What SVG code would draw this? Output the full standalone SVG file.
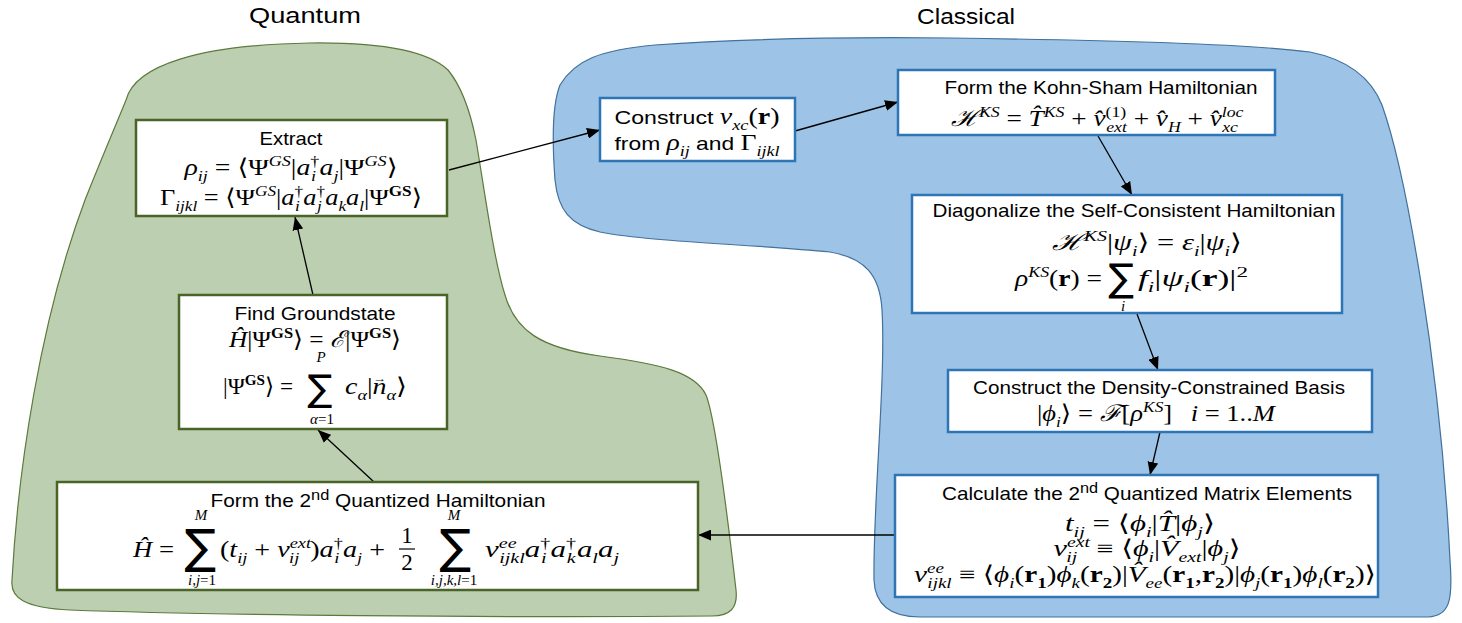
<svg xmlns="http://www.w3.org/2000/svg" width="1462" height="623" viewBox="0 0 1462 623">
<style>
.tx{font-family:"Liberation Sans",Arial,sans-serif;font-size:19px;fill:#000}
.lbl{font-family:"Liberation Sans",Arial,sans-serif;font-size:22px;fill:#000}
.mx{font-family:"Liberation Serif","DejaVu Serif",serif;font-size:23px;font-style:italic;fill:#000}
.up{font-style:normal}
.sm{font-size:15px}
.b{font-weight:bold;font-style:normal}
.sum{font-family:"DejaVu Sans",sans-serif;fill:#000}
.gbox{fill:#fff;stroke:#4a6428;stroke-width:2.5}
.bbox{fill:#fff;stroke:#2e75b6;stroke-width:2.5}
.conn{stroke:#000;stroke-width:1.3;fill:none;marker-end:url(#ah)}
</style>
<defs>
<marker id="ah" viewBox="0 0 12 10" refX="12" refY="5" markerWidth="13" markerHeight="11" markerUnits="userSpaceOnUse" orient="auto">
<path d="M0,0 L12,5 L0,10 Z" fill="#000"/>
</marker>
</defs>
<rect width="1462" height="623" fill="#fff"/>
<g id="quantum-region">
<path d="M126,100 C135,65 200,45 310,43 C390,42 430,53 448,70 C462,87 470,110 476,140 C486,200 494,260 505,295 C515,330 540,348 600,356 C660,364 695,372 706,395 C716,420 728,520 736,590 C738,608 730,616 712,616 C500,618 200,615 70,610 C25,608 10,598 12,580 C18,470 40,320 85,200 C105,150 118,120 126,100 Z" fill="#bdcfb1" stroke="#5b7a3c" stroke-width="1.2"/>
<text class="lbl" x="305" y="23" text-anchor="middle" textLength="112" lengthAdjust="spacingAndGlyphs">Quantum</text>
</g>
<g id="classical-region">
<path d="M560,85 C575,60 600,50 655,45 C750,38 850,37 950,38 C1100,40 1250,44 1310,52 C1350,60 1372,80 1382,105 C1405,170 1440,360 1450,560 C1453,600 1450,616 1428,617 L920,617 C890,617 875,605 874,580 C873,500 886,380 882,310 C880,275 865,258 830,252 C750,244 650,242 600,232 C570,225 558,210 555,180 C552,140 552,105 560,85 Z" fill="#9dc3e6" stroke="#41719c" stroke-width="1.2"/>
<text class="lbl" x="966" y="24" text-anchor="middle" textLength="98" lengthAdjust="spacingAndGlyphs">Classical</text>
</g>
<g id="connectors">
<line class="conn" x1="449" y1="170" x2="600" y2="130"/>
<line class="conn" x1="795" y1="131" x2="898" y2="102"/>
<line class="conn" x1="1098" y1="136" x2="1132" y2="195"/>
<line class="conn" x1="1137" y1="314" x2="1158" y2="370"/>
<line class="conn" x1="1160" y1="432" x2="1150" y2="475"/>
<line class="conn" x1="895" y1="535" x2="698" y2="535"/>
<line class="conn" x1="374" y1="482" x2="318" y2="430"/>
<line class="conn" x1="313" y1="295" x2="295" y2="217"/>
</g>
<g id="extract">
<rect class="gbox" x="136" y="120" width="311" height="96"/>
<text class="tx" x="291" y="145" text-anchor="middle" textLength="63" lengthAdjust="spacingAndGlyphs">Extract</text>
<text class="mx" x="291" y="175" text-anchor="middle" textLength="213" lengthAdjust="spacingAndGlyphs">ρ<tspan class="sm" baseline-shift="-6">ij</tspan><tspan class="up"> = ⟨Ψ</tspan><tspan class="sm" baseline-shift="9">GS</tspan><tspan class="up">|</tspan>a<tspan class="sm up" baseline-shift="9">†</tspan><tspan class="sm" dx="-7" baseline-shift="-6">i</tspan><tspan dx="3">a</tspan><tspan class="sm" baseline-shift="-6">j</tspan><tspan class="up">|Ψ</tspan><tspan class="sm" baseline-shift="9">GS</tspan><tspan class="up">⟩</tspan></text>
<text class="mx" x="291" y="205" text-anchor="middle" textLength="262" lengthAdjust="spacingAndGlyphs"><tspan class="up">Γ</tspan><tspan class="sm" baseline-shift="-6">ijkl</tspan><tspan class="up"> = ⟨Ψ</tspan><tspan class="sm" baseline-shift="9">GS</tspan><tspan class="up">|</tspan>a<tspan class="sm up" baseline-shift="9">†</tspan><tspan class="sm" dx="-7" baseline-shift="-6">i</tspan><tspan dx="3">a</tspan><tspan class="sm up" baseline-shift="9">†</tspan><tspan class="sm" dx="-7" baseline-shift="-6">j</tspan><tspan dx="3">a</tspan><tspan class="sm" baseline-shift="-6">k</tspan>a<tspan class="sm" baseline-shift="-6">l</tspan><tspan class="up">|Ψ</tspan><tspan class="sm b" baseline-shift="9">GS</tspan><tspan class="up">⟩</tspan></text>
</g>
<g id="find-groundstate">
<rect class="gbox" x="179" y="295" width="268" height="134"/>
<text class="tx" x="315" y="320" text-anchor="middle" textLength="161" lengthAdjust="spacingAndGlyphs">Find Groundstate</text>
<text class="mx" x="315" y="347" text-anchor="middle" textLength="172" lengthAdjust="spacingAndGlyphs">Ĥ<tspan class="up">|Ψ</tspan><tspan class="sm b" baseline-shift="9">GS</tspan><tspan class="up">⟩ = </tspan>ℰ<tspan class="up">|Ψ</tspan><tspan class="sm b" baseline-shift="9">GS</tspan><tspan class="up">⟩</tspan></text>
<text class="mx sm" x="321" y="362" text-anchor="middle">P</text>
<text class="mx" x="293" y="394" text-anchor="end" textLength="70" lengthAdjust="spacingAndGlyphs"><tspan class="up">|Ψ</tspan><tspan class="sm b" baseline-shift="9">GS</tspan><tspan class="up">⟩ =</tspan></text>
<text class="sum" x="320" y="401" font-size="37" text-anchor="middle">∑</text>
<text class="mx sm" x="322" y="424" text-anchor="middle">α<tspan class="up">=1</tspan></text>
<text class="mx" x="345" y="394" textLength="62" lengthAdjust="spacingAndGlyphs">c<tspan class="sm" baseline-shift="-6">α</tspan><tspan class="up">|</tspan>n<tspan class="up" font-size="11" dx="-11" baseline-shift="12">→</tspan><tspan class="sm" baseline-shift="-6">α</tspan><tspan class="up">⟩</tspan></text>
</g>
<g id="form-2nd-quantized">
<rect class="gbox" x="57" y="482" width="641" height="108"/>
<text class="tx" x="378" y="507" text-anchor="middle" textLength="335" lengthAdjust="spacingAndGlyphs">Form the 2<tspan class="sm" baseline-shift="7">nd</tspan> Quantized Hamiltonian</text>
<text class="mx" x="133" y="557" textLength="41" lengthAdjust="spacingAndGlyphs">Ĥ<tspan class="up"> =</tspan></text>
<text class="sum" x="200" y="563" font-size="47" text-anchor="middle">∑</text>
<text class="mx sm" x="201" y="520" text-anchor="middle">M</text>
<text class="mx sm" x="202" y="585" text-anchor="middle">i,j<tspan class="up">=1</tspan></text>
<text class="mx" x="220" y="557" textLength="165" lengthAdjust="spacingAndGlyphs"><tspan class="up">(</tspan>t<tspan class="sm" baseline-shift="-6">ij</tspan><tspan class="up"> + </tspan>v<tspan class="sm" baseline-shift="9">ext</tspan><tspan class="sm" dx="-18" baseline-shift="-6">ij</tspan><tspan class="up" dx="9">)</tspan>a<tspan class="sm up" baseline-shift="9">†</tspan><tspan class="sm" dx="-7" baseline-shift="-6">i</tspan><tspan dx="3">a</tspan><tspan class="sm" baseline-shift="-6">j</tspan><tspan class="up"> +</tspan></text>
<text class="mx up" x="407" y="543" text-anchor="middle">1</text>
<line x1="399" y1="549" x2="415" y2="549" stroke="#000" stroke-width="1.2"/>
<text class="mx up" x="407" y="570" text-anchor="middle">2</text>
<text class="sum" x="455" y="563" font-size="47" text-anchor="middle">∑</text>
<text class="mx sm" x="454" y="520" text-anchor="middle">M</text>
<text class="mx sm" x="454" y="585" text-anchor="middle">i,j,k,l<tspan class="up">=1</tspan></text>
<text class="mx" x="485" y="557" textLength="134" lengthAdjust="spacingAndGlyphs">v<tspan class="sm" baseline-shift="9">ee</tspan><tspan class="sm" dx="-13" baseline-shift="-6">ijkl</tspan>a<tspan class="sm up" baseline-shift="9">†</tspan><tspan class="sm" dx="-7" baseline-shift="-6">i</tspan><tspan dx="3">a</tspan><tspan class="sm up" baseline-shift="9">†</tspan><tspan class="sm" dx="-7" baseline-shift="-6">k</tspan><tspan dx="1">a</tspan><tspan class="sm" baseline-shift="-6">l</tspan>a<tspan class="sm" baseline-shift="-6">j</tspan></text>
</g>
<g id="construct-vxc">
<rect class="bbox" x="600" y="98" width="195" height="63"/>
<text x="697" y="124" text-anchor="middle" textLength="165" lengthAdjust="spacingAndGlyphs"><tspan class="tx">Construct  </tspan><tspan class="mx">v</tspan><tspan class="mx sm" baseline-shift="-6">xc</tspan><tspan class="mx up">(</tspan><tspan class="mx b">r</tspan><tspan class="mx up">)</tspan></text>
<text x="697" y="150" text-anchor="middle" textLength="165" lengthAdjust="spacingAndGlyphs"><tspan class="tx">from </tspan><tspan class="mx">ρ</tspan><tspan class="mx sm" baseline-shift="-6">ij</tspan><tspan class="tx"> and </tspan><tspan class="mx up">Γ</tspan><tspan class="mx sm" baseline-shift="-6">ijkl</tspan></text>
</g>
<g id="kohn-sham">
<rect class="bbox" x="898" y="70" width="377" height="65"/>
<text class="tx" x="1101" y="94" text-anchor="middle" textLength="313" lengthAdjust="spacingAndGlyphs">Form the Kohn-Sham Hamiltonian</text>
<text class="mx" x="1097" y="126" text-anchor="middle" textLength="293" lengthAdjust="spacingAndGlyphs">ℋ<tspan class="sm" baseline-shift="9">KS</tspan><tspan class="up"> = </tspan>T̂<tspan class="sm" baseline-shift="9">KS</tspan><tspan class="up"> + </tspan>v̂<tspan class="sm up" baseline-shift="9">(1)</tspan><tspan class="sm" dx="-17" baseline-shift="-6">ext</tspan><tspan class="up"> + </tspan>v̂<tspan class="sm" baseline-shift="-6">H</tspan><tspan class="up"> + </tspan>v̂<tspan class="sm" baseline-shift="9">loc</tspan><tspan class="sm" dx="-18" baseline-shift="-6">xc</tspan></text>
</g>
<g id="diagonalize">
<rect class="bbox" x="912" y="195" width="430" height="118"/>
<text class="tx" x="1134" y="217" text-anchor="middle" textLength="403" lengthAdjust="spacingAndGlyphs">Diagonalize the Self-Consistent Hamiltonian</text>
<text class="mx" x="1147" y="250" text-anchor="middle" textLength="190" lengthAdjust="spacingAndGlyphs">ℋ<tspan class="sm" baseline-shift="9">KS</tspan><tspan class="up">|</tspan>ψ<tspan class="sm" baseline-shift="-6">i</tspan><tspan class="up">⟩ = </tspan>ε<tspan class="sm" baseline-shift="-6">i</tspan><tspan class="up">|</tspan>ψ<tspan class="sm" baseline-shift="-6">i</tspan><tspan class="up">⟩</tspan></text>
<text class="mx" x="1102" y="286" text-anchor="end" textLength="87" lengthAdjust="spacingAndGlyphs">ρ<tspan class="sm" baseline-shift="9">KS</tspan><tspan class="up">(</tspan><tspan class="b">r</tspan><tspan class="up">) =</tspan></text>
<text class="sum" x="1121" y="291" font-size="38" text-anchor="middle">∑</text>
<text class="mx sm" x="1123" y="311" text-anchor="middle">i</text>
<text class="mx" x="1138" y="286" textLength="110" lengthAdjust="spacingAndGlyphs">f<tspan class="sm" baseline-shift="-6">i</tspan><tspan class="up">|</tspan>ψ<tspan class="sm" baseline-shift="-6">i</tspan><tspan class="up">(</tspan><tspan class="b">r</tspan><tspan class="up">)|</tspan><tspan class="sm up" baseline-shift="9">2</tspan></text>
</g>
<g id="density-basis">
<rect class="bbox" x="948" y="370" width="424" height="62"/>
<text class="tx" x="1159" y="394" text-anchor="middle" textLength="372" lengthAdjust="spacingAndGlyphs">Construct the Density-Constrained Basis</text>
<text class="mx" x="1156" y="421" text-anchor="middle" textLength="238" lengthAdjust="spacingAndGlyphs"><tspan class="up">|</tspan>ϕ<tspan class="sm" baseline-shift="-6">i</tspan><tspan class="up">⟩ = </tspan>ℱ<tspan class="up">[</tspan>ρ<tspan class="sm" baseline-shift="9">KS</tspan><tspan class="up">]</tspan><tspan dx="16">i</tspan><tspan class="up"> = 1..</tspan>M</text>
</g>
<g id="matrix-elements">
<rect class="bbox" x="895" y="475" width="483" height="122"/>
<text class="tx" x="1147" y="500" text-anchor="middle" textLength="410" lengthAdjust="spacingAndGlyphs">Calculate the 2<tspan class="sm" baseline-shift="7">nd</tspan> Quantized Matrix Elements</text>
<text class="mx" x="1140" y="531" text-anchor="middle" textLength="150" lengthAdjust="spacingAndGlyphs">t<tspan class="sm" baseline-shift="-6">ij</tspan><tspan class="up"> = ⟨</tspan>ϕ<tspan class="sm" baseline-shift="-6">i</tspan><tspan class="up">|</tspan>T̂<tspan class="up">|</tspan>ϕ<tspan class="sm" baseline-shift="-6">j</tspan><tspan class="up">⟩</tspan></text>
<text class="mx" x="1147" y="556" text-anchor="middle" textLength="187" lengthAdjust="spacingAndGlyphs">v<tspan class="sm" baseline-shift="9">ext</tspan><tspan class="sm" dx="-18" baseline-shift="-6">ij</tspan><tspan class="up" dx="9"> ≡ ⟨</tspan>ϕ<tspan class="sm" baseline-shift="-6">i</tspan><tspan class="up">|</tspan>V̂<tspan class="sm" baseline-shift="-6">ext</tspan><tspan class="up">|</tspan>ϕ<tspan class="sm" baseline-shift="-6">j</tspan><tspan class="up">⟩</tspan></text>
<text class="mx" x="1145" y="582" text-anchor="middle" textLength="462" lengthAdjust="spacingAndGlyphs">v<tspan class="sm" baseline-shift="9">ee</tspan><tspan class="sm" dx="-13" baseline-shift="-6">ijkl</tspan><tspan class="up"> ≡ ⟨</tspan>ϕ<tspan class="sm" baseline-shift="-6">i</tspan><tspan class="up">(</tspan><tspan class="b">r</tspan><tspan class="sm b" baseline-shift="-6">1</tspan><tspan class="up">)</tspan>ϕ<tspan class="sm" baseline-shift="-6">k</tspan><tspan class="up">(</tspan><tspan class="b">r</tspan><tspan class="sm b" baseline-shift="-6">2</tspan><tspan class="up">)|</tspan>V̂<tspan class="sm" baseline-shift="-6">ee</tspan><tspan class="up">(</tspan><tspan class="b">r</tspan><tspan class="sm b" baseline-shift="-6">1</tspan><tspan class="up">,</tspan><tspan class="b">r</tspan><tspan class="sm b" baseline-shift="-6">2</tspan><tspan class="up">)|</tspan>ϕ<tspan class="sm" baseline-shift="-6">j</tspan><tspan class="up">(</tspan><tspan class="b">r</tspan><tspan class="sm b" baseline-shift="-6">1</tspan><tspan class="up">)</tspan>ϕ<tspan class="sm" baseline-shift="-6">l</tspan><tspan class="up">(</tspan><tspan class="b">r</tspan><tspan class="sm b" baseline-shift="-6">2</tspan><tspan class="up">)⟩</tspan></text>
</g>
</svg>
